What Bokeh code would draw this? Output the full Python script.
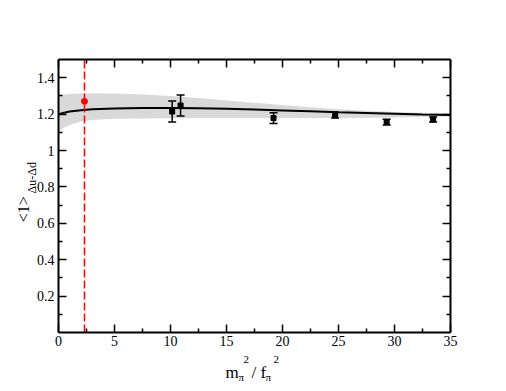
from math import pi
from bokeh.plotting import figure
from bokeh.models import (ColumnDataSource, Range1d, LinearAxis, FixedTicker,
                          Label, CustomJSTickFormatter)
from bokeh.embed import file_html
from bokeh.resources import INLINE

# ---------------- data ----------------
fit_x = [0, 0.5, 1, 2, 3, 5, 7.5, 10, 12.5, 15, 17.5, 20, 22.5, 25, 27.5, 30, 32.5, 35]
fit_y = [1.200, 1.208, 1.214, 1.221, 1.226, 1.231, 1.233, 1.234, 1.232, 1.229,
         1.225, 1.220, 1.215, 1.210, 1.206, 1.202, 1.198, 1.195]
band_upper = [1.305, 1.308, 1.310, 1.313, 1.314, 1.313, 1.308, 1.300, 1.288, 1.275,
              1.262, 1.250, 1.237, 1.226, 1.218, 1.212, 1.207, 1.204]
band_lower = [1.105, 1.125, 1.140, 1.160, 1.168, 1.174, 1.176, 1.177, 1.178, 1.178,
              1.178, 1.178, 1.178, 1.178, 1.180, 1.182, 1.185, 1.187]

lattice_x = [10.15, 10.9, 19.2, 24.7, 29.3, 33.45]
lattice_y = [1.214, 1.247, 1.178, 1.194, 1.156, 1.170]
lattice_err = [0.058, 0.058, 0.030, 0.016, 0.016, 0.014]

phys_x = [2.32]
phys_y = [1.27]

x_lo, x_hi = 0, 35
y_lo, y_hi = 0, 1.5
x_ticks = [0, 5, 10, 15, 20, 25, 30, 35]
x_minor = [2.5, 7.5, 12.5, 17.5, 22.5, 27.5, 32.5]
y_ticks = [0.2, 0.4, 0.6, 0.8, 1.0, 1.2, 1.4]
y_minor = [0.1, 0.3, 0.5, 0.7, 0.9, 1.1, 1.3]

FONT = "Liberation Serif"

# ---------------- layout (canvas pixels) ----------------
W, H = 498, 383
FL, FR, FT, FB = 58, 450, 59, 332          # axes box in canvas pixels
sx_per = (FR - FL) / (x_hi - x_lo)
sy_per = (FB - FT) / (y_hi - y_lo)
xr = Range1d(x_lo - FL / sx_per, x_hi + (W - FR) / sx_per)
yr = Range1d(y_lo - (H - FB) / sy_per, y_hi + FT / sy_per)

p = figure(width=W, height=H, output_backend="svg", toolbar_location=None,
           x_range=xr, y_range=yr, x_axis_location=None, y_axis_location=None,
           min_border=0, min_border_left=0, min_border_right=0,
           min_border_top=0, min_border_bottom=0)
p.xgrid.visible = False
p.ygrid.visible = False
p.outline_line_color = None
p.background_fill_color = "white"
p.border_fill_color = "white"

fmt = CustomJSTickFormatter(code="return (Math.round(tick*10)/10).toString();")
blank = CustomJSTickFormatter(code="return '';")


def make_axis(ticks, minor, loc, bounds, labels):
    ax = LinearAxis(fixed_location=loc, bounds=bounds)
    ax.ticker = FixedTicker(ticks=ticks, minor_ticks=minor)
    ax.axis_line_width = 2
    ax.axis_line_color = "black"
    ax.major_tick_in = 8
    ax.major_tick_out = 0
    ax.minor_tick_in = 4
    ax.minor_tick_out = 0
    ax.major_tick_line_width = 1.5
    ax.minor_tick_line_width = 1.5
    ax.major_tick_line_color = "black"
    ax.minor_tick_line_color = "black"
    ax.major_label_text_font = FONT
    ax.major_label_text_font_size = "14px"
    ax.major_label_text_color = "black"
    if labels:
        ax.formatter = fmt
    else:
        ax.formatter = blank
        ax.major_label_text_color = None
    return ax


xb = make_axis(x_ticks, x_minor, y_lo, (x_lo, x_hi), True); xb.major_label_standoff = 3
yl = make_axis(y_ticks, y_minor, x_lo, (y_lo, y_hi), True); yl.major_label_standoff = 4
xt = make_axis(x_ticks, x_minor, y_hi, (x_lo, x_hi), False)
yrr = make_axis(y_ticks, y_minor, x_hi, (y_lo, y_hi), False)
p.add_layout(xb, "below")
p.add_layout(yl, "left")
p.add_layout(xt, "above")
p.add_layout(yrr, "right")

# ---------------- glyphs ----------------
band_src = ColumnDataSource(dict(x=fit_x, y=fit_y, lo=band_lower, hi=band_upper))
p.varea(x="x", y1="lo", y2="hi", source=band_src, fill_color="#d9d9d9", fill_alpha=1.0)
p.line(x="x", y="y", source=band_src, line_color="black", line_width=2)

lat_lo = [v - e for v, e in zip(lattice_y, lattice_err)]
lat_hi = [v + e for v, e in zip(lattice_y, lattice_err)]
p.segment(x0=lattice_x, y0=lat_lo, x1=lattice_x, y1=lat_hi,
          line_color="black", line_width=1.5)
p.scatter(x=lattice_x + lattice_x, y=lat_lo + lat_hi, marker="dash", size=8,
          line_color="black", line_width=1.5)
p.scatter(x=lattice_x, y=lattice_y, marker="square", size=5,
          fill_color="black", line_color="black")

p.segment(x0=phys_x, y0=[y_lo], x1=phys_x, y1=[y_hi], line_color="#ff0000",
          line_width=1.5, line_dash="8 3")
p.scatter(x=phys_x, y=phys_y, marker="circle", size=6,
          fill_color="#ff0000", line_color="#ff0000")

# ---------------- axis titles (canvas pixels, y measured from top) ----------------
def lab(text, x, y_top, size, angle=0):
    p.add_layout(Label(text=text, x=x, y=H - y_top, x_units="screen", y_units="screen",
                       angle=angle, text_font=FONT, text_font_size=size,
                       text_color="black", text_align="left",
                       text_baseline="alphabetic"))

lab("m", 225, 372, "17px")
lab("\u03c0", 238, 376, "11px")
lab("2", 243, 359, "11px")
lab("/ f", 251, 372, "17px")
lab("\u03c0", 265, 376, "11px")
lab("2", 273, 359, "11px")

lab("<1>", 23, 221.7, "16px", angle=pi / 2)
lab("\u0394u-\u0394d", 31, 193, "12px", angle=pi / 2)

open("out.html", "w").write(file_html(p, INLINE))
